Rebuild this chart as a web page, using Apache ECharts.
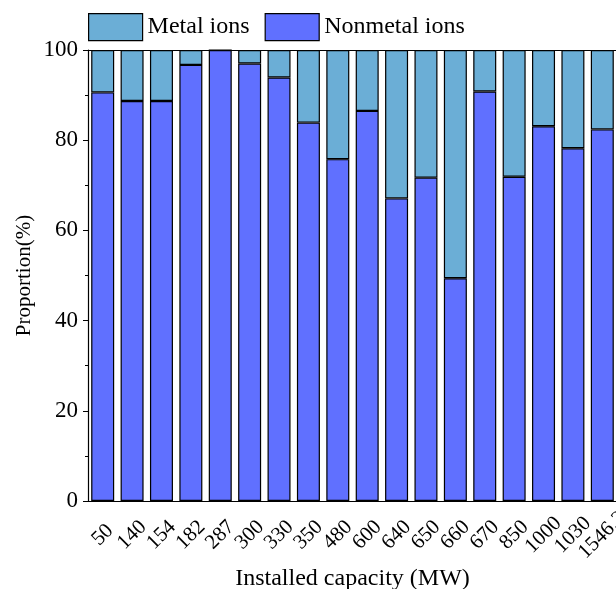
<!DOCTYPE html>
<html>
<head>
<meta charset="utf-8">
<script src="https://cdn.jsdelivr.net/npm/echarts@6/dist/echarts.min.js"></script>
<style>html,body{margin:0;padding:0;background:#fff;overflow:hidden;}#c{width:616px;height:589px;}</style>
</head>
<body>
<div id="c"></div>
<script>
const categories = ['50','140','154','182','287','300','330','350','480','600','640','650','660','670','850','1000','1030','1546.3'];
const nonmetalIons = [90.6, 88.7, 88.7, 96.7, 100, 97.0, 93.9, 83.9, 75.8, 86.5, 67.1, 71.7, 49.4, 90.8, 71.9, 83.1, 78.2, 82.4];
const metalIons = [9.4, 11.3, 11.3, 3.3, 0, 3.0, 6.1, 16.1, 24.2, 13.5, 32.9, 28.3, 50.6, 9.2, 28.1, 16.9, 21.8, 17.6];
const yTicks = [0, 20, 40, 60, 80, 100];

const font = '"Liberation Serif", "Times New Roman", serif';
const chart = echarts.init(document.getElementById('c'), null, { width: 616, height: 589 });
chart.setOption({
  animation: false,
  textStyle: { fontFamily: font, color: '#000' },
  legend: {
    left: 83, top: 8,
    itemWidth: 54, itemHeight: 27, itemGap: 15,
    icon: 'rect',
    data: ['Metal ions', 'Nonmetal ions'],
    textStyle: { fontFamily: font, fontSize: 24, color: '#000' },
    itemStyle: { borderColor: '#000', borderWidth: 1.2 }
  },
  grid: { left: 88, top: 50, width: 529, height: 451, containLabel: false, outerBoundsMode: 'none' },
  xAxis: [{
    type: 'category', data: categories,
    name: 'Installed capacity (MW)', nameLocation: 'middle', nameGap: 66, nameMoveOverlap: false,
    nameTextStyle: { fontFamily: font, fontSize: 24, color: '#000', verticalAlign: 'top' },
    axisLine: { lineStyle: { color: '#000', width: 1.2 } },
    axisTick: { alignWithLabel: true, length: 5, lineStyle: { color: '#000' } },
    axisLabel: { rotate: 45, fontFamily: font, fontSize: 21, color: '#000', margin: 34, interval: 0,
      hideOverlap: false, align: 'center', verticalAlign: 'middle' }
  }, {
    type: 'category', data: categories, position: 'top',
    axisLine: { lineStyle: { color: '#000', width: 1.2 } },
    axisTick: { show: false }, axisLabel: { show: false }
  }],
  yAxis: {
    type: 'value', min: 0, max: 100, interval: 20,
    name: 'Proportion(%)', nameLocation: 'middle', nameGap: 53, nameMoveOverlap: false,
    nameTextStyle: { fontFamily: font, fontSize: 21, color: '#000' },
    axisLine: { show: true, lineStyle: { color: '#000', width: 1.2 } },
    axisTick: { show: true, length: 5, lineStyle: { color: '#000' } },
    minorTick: { show: true, splitNumber: 2, length: 3, lineStyle: { color: '#000' } },
    splitLine: { show: false },
    axisLabel: { fontFamily: font, fontSize: 23, color: '#000', margin: 10,
      formatter: v => yTicks.includes(v) ? String(v) : '' }
  },
  series: [{
    name: 'Nonmetal ions', type: 'bar', stack: 's', data: nonmetalIons, barWidth: 23,
    itemStyle: { color: '#6070FF', borderColor: '#000', borderWidth: 1.2 }
  }, {
    name: 'Metal ions', type: 'bar', stack: 's', data: metalIons, barWidth: 23,
    itemStyle: { color: '#6BAED6', borderColor: '#000', borderWidth: 1.2 }
  }]
});
</script>
</body>
</html>
